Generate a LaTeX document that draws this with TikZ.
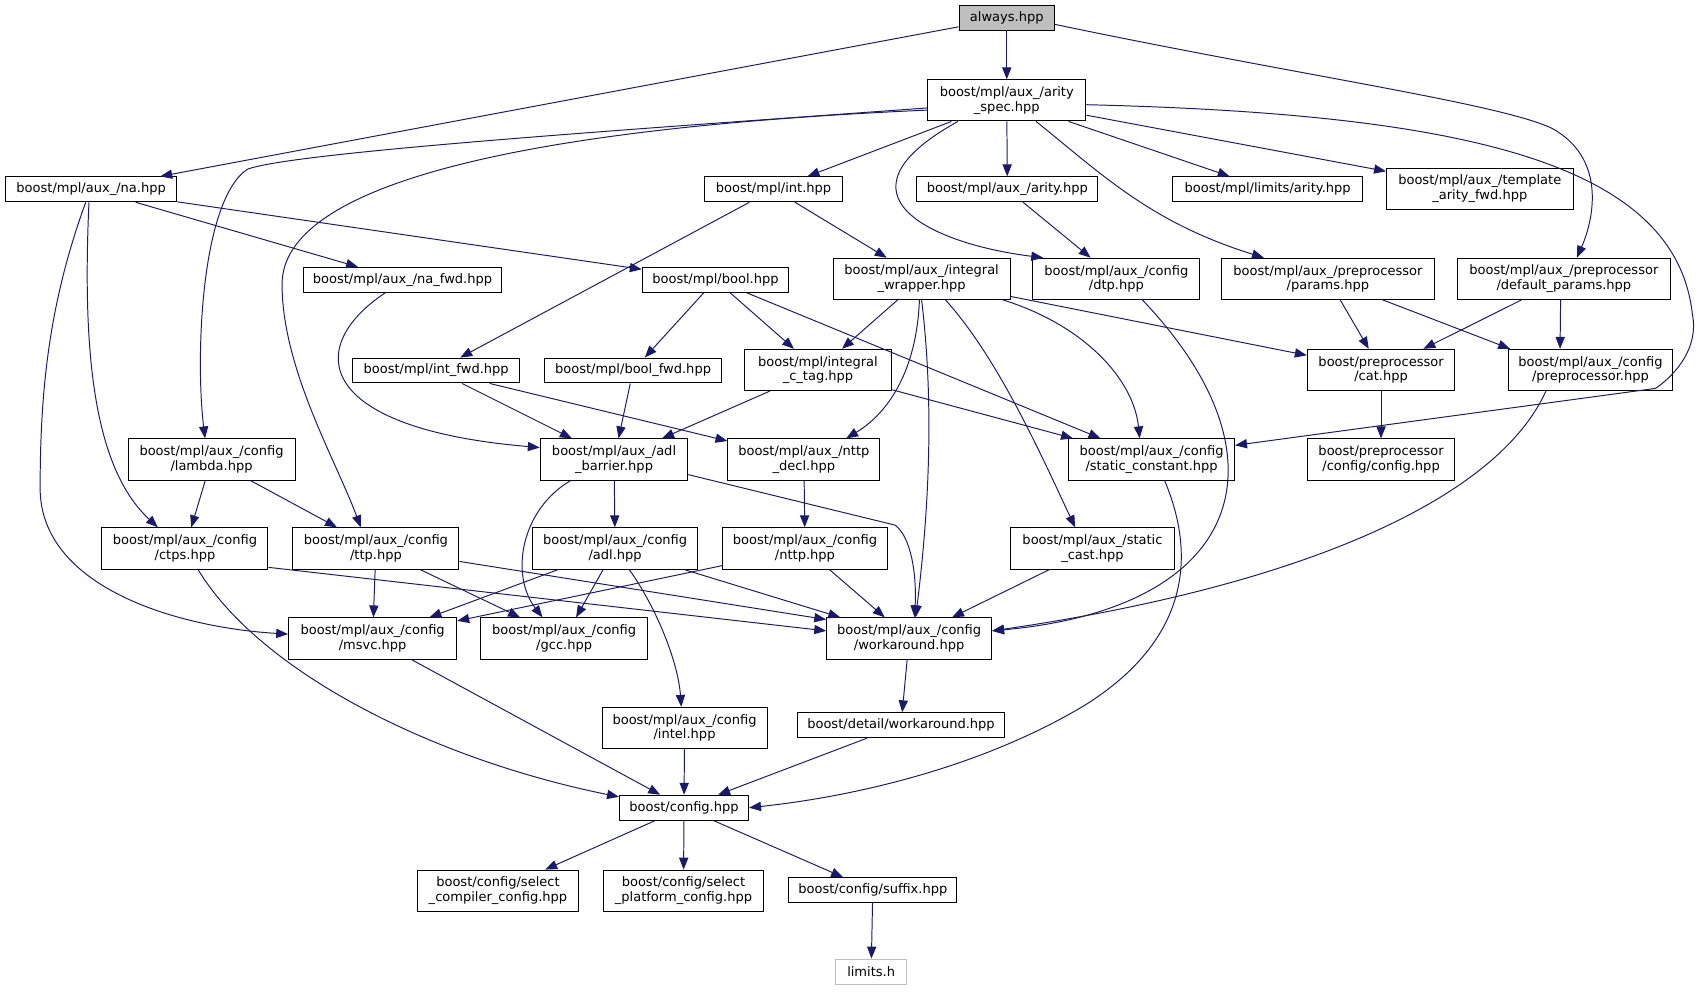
\documentclass[tikz,border=0pt]{standalone}
\usepackage{fontspec}
\setmainfont{DejaVu Sans}
\usepackage{tikz}
\usetikzlibrary{arrows.meta}
\definecolor{depblue}{HTML}{191970}
\definecolor{rootgray}{HTML}{BFBFBF}
\tikzset{
    file/.style={draw=black, line width=0.9pt, fill=white, inner xsep=2pt, inner ysep=1pt,
        minimum width=#1, minimum height=23pt, align=center,
        font=\fontsize{12}{13.5}\selectfont},
    file2/.style={file=#1, minimum height=38pt},
    root/.style={fill=rootgray},
    sys/.style={draw=rootgray},
    dep/.style={draw=depblue, line width=0.9pt, -{Triangle[length=11pt,width=8.5pt]}}
}

\begin{document}
\begin{tikzpicture}[x=1pt,y=-1pt]
    \useasboundingbox (0,0) rectangle (1567,913.5);
    % files
    \node[file=88,root] (always) at (928,16.5) {always.hpp};
    \node[file2=146] (aspec) at (928,92.5) {boost/mpl/aux\_/arity\\\_spec.hpp};
    \node[file=158] (na) at (84,174.5) {boost/mpl/aux\_/na.hpp};
    \node[file=128] (int) at (713,174.5) {boost/mpl/int.hpp};
    \node[file=167] (arity) at (928.5,174.5) {boost/mpl/aux\_/arity.hpp};
    \node[file=175] (limar) at (1168.5,174.5) {boost/mpl/limits/arity.hpp};
    \node[file2=172] (tplfwd) at (1364,174) {boost/mpl/aux\_/template\\\_arity\_fwd.hpp};
    \node[file=182] (nafwd) at (371,258) {boost/mpl/aux\_/na\_fwd.hpp};
    \node[file=135] (bool) at (659.5,258) {boost/mpl/bool.hpp};
    \node[file2=163] (iw) at (849.5,257) {boost/mpl/aux\_/integral\\\_wrapper.hpp};
    \node[file2=154] (dtp) at (1029,257) {boost/mpl/aux\_/config\\/dtp.hpp};
    \node[file2=196] (params) at (1224,257) {boost/mpl/aux\_/preprocessor\\/params.hpp};
    \node[file2=197] (defparams) at (1441.5,257) {boost/mpl/aux\_/preprocessor\\/default\_params.hpp};
    \node[file=154] (intfwd) at (402,341.5) {boost/mpl/int\_fwd.hpp};
    \node[file=163] (boolfwd) at (583.5,341.5) {boost/mpl/bool\_fwd.hpp};
    \node[file2=136] (ict) at (754,341) {boost/mpl/integral\\\_c\_tag.hpp};
    \node[file2=136] (cat) at (1273,341) {boost/preprocessor\\/cat.hpp};
    \node[file2=152] (ppcfg) at (1466,341) {boost/mpl/aux\_/config\\/preprocessor.hpp};
    \node[file2=154] (lambda) at (195,423.5) {boost/mpl/aux\_/config\\/lambda.hpp};
    \node[file2=136] (adlb) at (566,423.5) {boost/mpl/aux\_/adl\\\_barrier.hpp};
    \node[file2=140] (nttpdecl) at (741,423.5) {boost/mpl/aux\_/nttp\\\_decl.hpp};
    \node[file2=153] (staticc) at (1061.5,423.5) {boost/mpl/aux\_/config\\/static\_constant.hpp};
    \node[file2=136] (ppconfig) at (1273,423.5) {boost/preprocessor\\/config/config.hpp};
    \node[file2=153] (ctps) at (170.5,505.5) {boost/mpl/aux\_/config\\/ctps.hpp};
    \node[file2=153] (ttp) at (346.5,505.5) {boost/mpl/aux\_/config\\/ttp.hpp};
    \node[file2=152] (adl) at (567,505.5) {boost/mpl/aux\_/config\\/adl.hpp};
    \node[file2=152] (nttp) at (742,505.5) {boost/mpl/aux\_/config\\/nttp.hpp};
    \node[file2=152] (scast) at (1007,505.5) {boost/mpl/aux\_/static\\\_cast.hpp};
    \node[file2=155] (msvc) at (343.5,588.5) {boost/mpl/aux\_/config\\/msvc.hpp};
    \node[file2=154] (gcc) at (520,588.5) {boost/mpl/aux\_/config\\/gcc.hpp};
    \node[file2=152] (wa) at (838,588.5) {boost/mpl/aux\_/config\\/workaround.hpp};
    \node[file2=152] (intel) at (631,671) {boost/mpl/aux\_/config\\/intel.hpp};
    \node[file=191] (dwa) at (830.5,668.5) {boost/detail/workaround.hpp};
    \node[file=119] (config) at (630.5,744.5) {boost/config.hpp};
    \node[file2=148] (selcomp) at (459,821) {boost/config/select\\\_compiler\_config.hpp};
    \node[file2=148] (selplat) at (630,821) {boost/config/select\\\_platform\_config.hpp};
    \node[file=155] (suffix) at (804.5,820.5) {boost/config/suffix.hpp};
    \node[file=66,sys] (limits) at (803,895.5) {limits.h};
    % straight includes
    \foreach \from/\to in {always/aspec, always/na, aspec/int, aspec/arity, aspec/limar,
        aspec/tplfwd, na/nafwd, na/bool, int/intfwd, int/iw, arity/dtp, lambda/ctps,
        lambda/ttp, bool/boolfwd, bool/ict, bool/staticc, iw/ict, iw/cat, params/cat,
        defparams/cat, cat/ppconfig, intfwd/adlb, intfwd/nttpdecl, boolfwd/adlb,
        ict/adlb, ict/staticc, adlb/adl, nttpdecl/nttp, ttp/msvc, ttp/gcc, adl/msvc,
        adl/gcc, adl/wa, nttp/msvc, nttp/wa, scast/wa, msvc/config, wa/dwa,
        intel/config, dwa/config, config/selcomp, config/selplat, config/suffix,
        suffix/limits}
        \draw[dep] (\from) -- (\to);
    \draw[dep] (params) -- ([xshift=-74pt]ppcfg.north);
    \draw[dep] ([xshift=-3pt]defparams.south) -- ([xshift=-28pt]ppcfg.north);
    \draw[dep] ([yshift=2pt]ctps.south east) -- ([yshift=7pt]wa.west);
    \draw[dep] ([yshift=-12pt]ttp.east) -- ([yshift=-2pt]wa.north west);
    % curved includes
    \draw[dep] ([yshift=-6pt]always.east) .. controls (1200,70) and (1380,95) .. (1430,118)
        .. controls (1480,145) and (1470,200) .. ([xshift=12pt]defparams.north);
    \draw[dep] ([yshift=-7pt]aspec.west) .. controls (600,118) and (270,140) .. (228,156)
        .. controls (185,185) and (180,330) .. ([xshift=-6pt]lambda.north);
    \draw[dep] ([yshift=-9pt]aspec.west) .. controls (480,118) and (260,170) .. (260,262)
        .. controls (260,340) and (310,425) .. ([xshift=-14pt]ttp.north);
    \draw[dep] ([xshift=-45pt]aspec.south) .. controls (760,180) and (860,225) .. ([xshift=10pt]dtp.north west);
    \draw[dep] ([xshift=27pt]aspec.south) .. controls (1015,160) and (1060,205) .. ([xshift=-59pt]params.north);
    \draw[dep] ([yshift=-4pt]aspec.east) .. controls (1350,105) and (1545,150) .. (1560,290)
        .. controls (1566,320) and (1545,345) .. (1526,358) -- ([yshift=13pt]staticc.east);
    \draw[dep] ([xshift=-2pt]na.south) .. controls (76,320) and (85,430) .. ([xshift=-25pt]ctps.north);
    \draw[dep] ([xshift=-5pt]na.south) .. controls (45,280) and (37,360) .. (37,450)
        .. controls (37,540) and (160,578) .. ([yshift=4pt]msvc.west);
    \draw[dep] ([xshift=-16pt]nafwd.south) .. controls (280,320) and (290,395) .. ([yshift=11pt]adlb.west);
    \draw[dep] ([xshift=-2pt]iw.south) .. controls (845,340) and (820,380) .. ([xshift=39pt]nttpdecl.north);
    \draw[dep] (iw.south) .. controls (862,380) and (855,480) .. ([xshift=6pt]wa.north);
    \draw[dep] ([xshift=22pt]iw.south) .. controls (920,330) and (960,420) .. ([xshift=-16pt]scast.north);
    \draw[dep] ([xshift=75pt]iw.south) .. controls (1000,300) and (1045,350) .. ([xshift=-11pt]staticc.north);
    \draw[dep] ([xshift=24pt]dtp.south) .. controls (1190,420) and (1150,560) .. ([yshift=7pt]wa.east);
    \draw[dep] ([xshift=-41pt]ppcfg.south) .. controls (1380,460) and (1200,540) .. ([yshift=7pt]wa.east);
    \draw[dep] ([xshift=12pt]staticc.south) .. controls (1110,530) and (1080,600) .. (1000,650)
        .. controls (900,710) and (780,735) .. (config.east);
    \draw[dep] ([yshift=-14pt]adlb.east) -- (825,484) .. controls (840,495) and (845,530) .. ([xshift=5pt]wa.north);
    \draw[dep] ([xshift=-40pt]adlb.south) .. controls (480,470) and (470,530) .. ([xshift=-20pt]gcc.north);
    \draw[dep] ([xshift=13pt]adl.south) .. controls (605,560) and (625,610) .. ([xshift=-3pt]intel.north);
    \draw[dep] ([xshift=12pt]ctps.south) .. controls (240,620) and (400,700) .. ([yshift=10pt]config.west);
\end{tikzpicture}
\end{document}
